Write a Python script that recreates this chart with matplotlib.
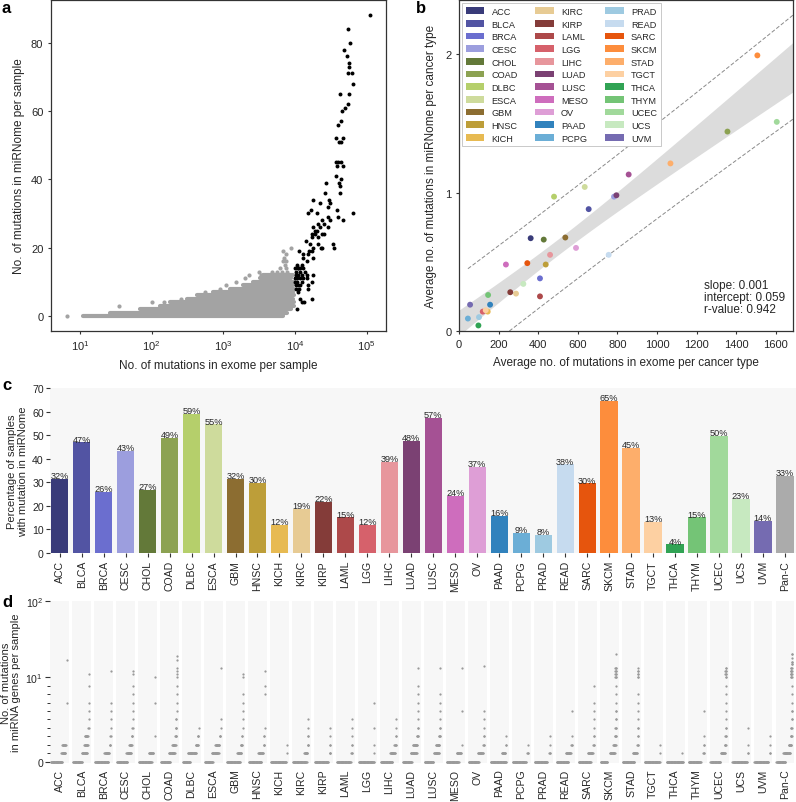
import numpy as np
import matplotlib
matplotlib.use("Agg")
import matplotlib.pyplot as plt
from matplotlib.patches import Patch
from matplotlib.ticker import NullLocator

plt.rcParams['font.family'] = ['Liberation Sans', 'DejaVu Sans']
plt.rcParams['mathtext.fontset'] = 'custom'
plt.rcParams['mathtext.rm'] = 'Liberation Sans'
plt.rcParams['mathtext.it'] = 'Liberation Sans:italic'
plt.rcParams['mathtext.bf'] = 'Liberation Sans:bold'
TXT = '#262626'
for k in ['text.color', 'axes.labelcolor', 'xtick.color', 'ytick.color']:
    plt.rcParams[k] = TXT

# ---------------- data ----------------
cancer_types = ['ACC', 'BLCA', 'BRCA', 'CESC', 'CHOL', 'COAD', 'DLBC', 'ESCA', 'GBM', 'HNSC',
                'KICH', 'KIRC', 'KIRP', 'LAML', 'LGG', 'LIHC', 'LUAD', 'LUSC', 'MESO', 'OV',
                'PAAD', 'PCPG', 'PRAD', 'READ', 'SARC', 'SKCM', 'STAD', 'TGCT', 'THCA', 'THYM',
                'UCEC', 'UCS', 'UVM']
type_colors = ['#393b79', '#5254a3', '#6b6ecf', '#9c9ede', '#637939', '#8ca252', '#b5cf6b', '#cedb9c',
               '#8c6d31', '#bd9e39', '#e7ba52', '#e7cb94', '#843c39', '#ad494a', '#d6616b', '#e7969c',
               '#7b4173', '#a55194', '#ce6dbd', '#de9ed6', '#3182bd', '#6baed6', '#9ecae1', '#c6dbef',
               '#e6550d', '#fd8d3c', '#fdae6b', '#fdd0a2', '#31a354', '#74c476', '#a1d99b', '#c7e9c0',
               '#756bb1']
pan_label = 'Pan-C'
pan_color = '#ababab'

# panel a: gray cloud (samples < 1e4 exome mutations), rows per integer miRNome count
gray_row_y = [0, 1, 2, 3, 4, 5, 6, 7, 8, 9, 10, 11, 12]
gray_row_lo = [11, 26, 69, 130, 181, 309, 427, 724, 1230, 1900, 2600, 3240, 3620]
gray_row_hi = [6900, 7800, 8900, 9600, 9600, 9300, 9600, 9300, 9600, 9300, 9600, 8900, 9300]
gray_pt_x = [6.5, 35, 100, 150, 260, 3100, 4700, 5600, 6500, 7800, 6150, 7600, 7200, 6900, 7600,
             7100, 7400, 6900, 8900, 3300, 3500, 480, 560, 900, 1100, 1500, 2000, 2300]
gray_pt_y = [0, 3, 4, 4, 5, 13, 13, 13, 13, 13, 14, 14, 15, 16, 16, 17, 18, 19, 20, 12, 11,
             6, 7, 8, 9, 10, 11, 12]
# panel a: black points (samples >= 1e4 exome mutations)
black_x = [111400, 55500, 58500, 48300, 52600, 57300, 57300, 54300, 63100, 63800, 42500, 57300, 55500,
           49900, 45700, 43350, 39400, 37300, 46200, 41100, 43350, 37300, 40250, 43350, 39000, 46200,
           36900, 43350, 41600, 42500, 42500, 63800, 39000, 40250, 46200, 27100, 26250, 30150, 30800,
           29200, 18050, 22350, 16550, 15350, 20050, 29200, 30800, 23550, 25650, 21200, 18050, 22350,
           19000, 20500, 17300, 19000, 23550, 25400, 29200, 17100, 21200, 14200, 16200, 21200, 22800,
           18050, 23550, 33550, 35400, 15850, 17100, 15350, 13100, 11500, 17650, 12800, 14850, 12400,
           10550, 10000, 11100, 11750, 10300, 11100, 10000, 11750, 10550, 12400, 10300, 11750, 13800,
           14550, 14850, 15350, 15350, 17100, 17650, 10900, 11750, 12400, 13350, 17100, 10550, 10300,
           10550, 10000, 10900, 11100, 12400, 11500, 10300, 13100, 11750, 12800]
black_y = [88, 84, 80, 78, 76, 74, 73, 71, 71, 68, 65, 65, 62,
           61, 60, 57, 56, 52, 52, 51, 51, 45, 45, 45, 44, 44,
           41, 40, 39, 38, 36, 30, 31, 29, 28, 39, 36, 34, 33,
           32, 34, 33, 31, 30, 30, 29, 28, 28, 27, 27, 26, 26,
           25, 25, 24, 24, 24, 24, 26, 23, 23, 22, 21, 21, 20,
           20, 20, 21, 20, 19, 19, 18, 18, 19, 17, 17, 16, 15,
           15, 14, 14, 13, 12, 12, 11, 11, 10, 10, 9, 9, 13,
           12, 11, 9, 8, 10, 12, 7, 5, 4, 4, 5, 2, 13,
           11, 10, 14, 9, 12, 8, 8, 14, 14, 11]

# panel b: average exome / miRNome mutations per cancer type (same order as cancer_types)
b_exome = [362, 655, 409, 783, 428, 1356, 480, 635, 537, 438, 145, 288, 259, 409, 120, 460, 795, 857,
           237, 591, 157, 45, 101, 756, 345, 1507, 1068, 135, 98, 147, 1605, 325, 56]
b_mirnome = [0.67, 0.88, 0.38, 0.97, 0.66, 1.44, 0.97, 1.04, 0.675, 0.48, 0.14, 0.27, 0.28, 0.25, 0.14,
             0.55, 0.98, 1.13, 0.48, 0.60, 0.19, 0.09, 0.10, 0.55, 0.49, 1.99, 1.21, 0.15, 0.04, 0.26,
             1.51, 0.34, 0.19]
b_stats_text = "slope: 0.001\nintercept: 0.059\nr-value: 0.942"

# panel c: percentage of samples with a miRNome mutation (cancer types + Pan-C)
c_percent = [31.6, 47.0, 26.0, 43.2, 26.8, 48.8, 59.1, 54.6, 31.6, 29.8, 11.9, 18.8, 21.6, 15.1, 11.9,
             38.6, 47.6, 57.2, 24.3, 36.6, 15.7, 8.6, 7.6, 37.6, 29.6, 64.6, 44.6, 13.1, 3.7, 15.1,
             49.8, 23.0, 13.6, 32.7]

# panel d: distinct mutation counts per sample and number of drawn points at each count
d_values = [
    [0, 1, 2, 7, 17],
    [0, 1, 2, 3, 4, 5, 6, 7, 9, 11],
    [0, 1, 2, 3, 4, 5, 6, 7, 12],
    [0, 1, 2, 3, 4, 5, 6, 7, 8, 9, 11, 12],
    [0, 1, 3, 7, 10],
    [0, 1, 2, 3, 4, 5, 6, 7, 8, 9, 10, 11, 12, 13, 17, 19],
    [0, 1, 2, 3, 4],
    [0, 1, 2, 3, 4, 5, 13],
    [0, 1, 2, 3, 4, 5, 6, 7, 8, 10, 11],
    [0, 1, 2, 3, 4, 8, 9, 12],
    [0, 1, 2],
    [0, 1, 2, 3, 4, 5],
    [0, 1, 2, 3, 4],
    [0, 1, 2, 3, 4, 5],
    [0, 1, 2, 4, 7],
    [0, 1, 2, 3, 4, 5],
    [0, 1, 2, 3, 4, 5, 6, 7, 8, 9, 13],
    [0, 1, 2, 3, 4, 5, 6, 7, 8, 13],
    [0, 1, 2, 6, 13],
    [0, 1, 2, 3, 4, 5, 6, 14],
    [0, 1, 2, 3],
    [0, 1, 2],
    [0, 1, 2, 3],
    [0, 1, 2, 3, 6],
    [0, 1, 2, 3, 4, 5, 6, 7, 9],
    [0, 1, 2, 3, 4, 5, 6, 7, 8, 9, 10, 11, 12, 13, 20],
    [0, 1, 2, 3, 4, 5, 6, 7, 8, 10, 11, 12, 13],
    [0, 1, 2],
    [0, 1],
    [0, 1, 2, 3, 6],
    [0, 1, 2, 3, 4, 5, 6, 7, 8, 9, 10, 11, 12, 13],
    [0, 1, 2, 4],
    [0, 1, 2, 3],
    [0, 1, 2, 3, 4, 5, 6, 7, 8, 9, 10, 11, 12, 13, 15, 16, 18, 20],
]
d_counts = [
    [31, 12, 10, 1, 1],
    [25, 15, 10, 9, 2, 1, 1, 1, 1, 1],
    [37, 14, 3, 2, 1, 1, 1, 1, 1],
    [29, 14, 8, 3, 2, 1, 1, 1, 1, 1, 1, 1],
    [35, 13, 1, 1, 1],
    [26, 17, 10, 4, 3, 2, 1, 1, 1, 1, 1, 1, 1, 1, 1, 1],
    [20, 23, 7, 3, 1],
    [22, 19, 12, 3, 1, 1, 1],
    [37, 12, 5, 2, 1, 1, 1, 1, 1, 1, 1],
    [35, 14, 3, 2, 1, 1, 1, 1],
    [42, 1, 1],
    [38, 10, 3, 2, 1, 1],
    [37, 3, 2, 1, 1],
    [38, 3, 2, 1, 1, 1],
    [42, 1, 1, 1, 1],
    [32, 14, 5, 2, 1, 1],
    [25, 17, 12, 4, 2, 1, 1, 1, 1, 1, 1],
    [24, 14, 10, 4, 2, 1, 1, 1, 1, 1],
    [33, 13, 1, 1, 1],
    [28, 14, 3, 2, 1, 1, 1, 1],
    [43, 10, 2, 1],
    [37, 3, 1],
    [35, 3, 1, 1],
    [33, 14, 3, 1, 1],
    [34, 14, 3, 2, 1, 1, 1, 1, 1],
    [19, 14, 7, 4, 3, 2, 2, 1, 1, 1, 3, 3, 3, 3, 1],
    [33, 12, 3, 2, 2, 1, 1, 1, 1, 2, 2, 2, 1],
    [42, 1, 1],
    [46, 1],
    [34, 3, 2, 1, 1],
    [28, 12, 4, 3, 2, 1, 1, 1, 1, 1, 2, 3, 3, 2],
    [40, 2, 1, 1],
    [39, 2, 1, 1],
    [25, 19, 8, 4, 3, 2, 2, 1, 1, 1, 3, 4, 4, 3, 2, 2, 1, 2],
]

# ---------------- figure ----------------
W, H = 796, 803
fig = plt.figure(figsize=(W / 100, H / 100), dpi=100)


def ax_px(l, t, r, b):
    return fig.add_axes([l / W, 1 - b / H, (r - l) / W, (b - t) / H])


SPINE = '#333333'
GRAY = '#a3a3a3'

# ---- panel a ----
axa = ax_px(51, 1, 386, 332)
axa.set_xscale('log')
axa.hlines(gray_row_y, gray_row_lo, gray_row_hi, colors=GRAY, linewidth=3.0,
           capstyle='round', zorder=1)
axa.scatter(gray_pt_x, gray_pt_y, s=9, c=GRAY, linewidths=0, zorder=1)
axa.scatter(black_x, black_y, s=8, c='black', linewidths=0, zorder=3)
axa.set_xlim(3.94, 186000)
axa.set_ylim(-4.4, 92.5)
axa.set_xticks([1e1, 1e2, 1e3, 1e4, 1e5])
axa.xaxis.set_minor_locator(NullLocator())
axa.set_yticks([0, 20, 40, 60, 80])
axa.tick_params(labelsize=8, length=2, width=0.8, color=SPINE)
for sp in axa.spines.values():
    sp.set_color(SPINE)
    sp.set_linewidth(0.9)
axa.set_xlabel('No. of mutations in exome per sample', fontsize=8.5, labelpad=5)
axa.set_ylabel('No. of mutations in miRNome per sample', fontsize=8.5, labelpad=4)

# ---- panel b ----
axb = ax_px(459, 1, 793, 332)
xs = np.array(b_exome, float)
ys = np.array(b_mirnome, float)
slope, intercept = np.polyfit(xs, ys, 1)
n = len(xs)
resid = ys - (slope * xs + intercept)
s_err = np.sqrt(np.sum(resid ** 2) / (n - 2))
xm = xs.mean()
sxx = np.sum((xs - xm) ** 2)
tval = 2.04
XMAX = 1687
xx = np.linspace(0, XMAX, 300)
yy = slope * xx + intercept
ci = tval * s_err * np.sqrt(1 / n + (xx - xm) ** 2 / sxx)
axb.fill_between(xx, yy - ci, yy + ci, color='#dcdcdc', lw=0, zorder=1)
xp = np.linspace(xs.min(), XMAX, 300)
yp = slope * xp + intercept
pi = tval * s_err * np.sqrt(1 + 1 / n + (xp - xm) ** 2 / sxx)
axb.plot(xp, yp + pi, ls=(0, (4, 2)), color='#8a8a8a', lw=0.7, zorder=2)
axb.plot(xp, yp - pi, ls=(0, (4, 2)), color='#8a8a8a', lw=0.7, zorder=2)
axb.scatter(xs, ys, s=18, c=type_colors, linewidths=0, zorder=3)
axb.set_xlim(0, XMAX)
axb.set_ylim(0, 2.39)
axb.set_xticks(np.arange(0, 1601, 200))
axb.set_yticks([0, 1, 2])
axb.tick_params(labelsize=8, length=2, width=0.8, color=SPINE)
for sp in axb.spines.values():
    sp.set_color(SPINE)
    sp.set_linewidth(0.9)
axb.set_xlabel('Average no. of mutations in exome per cancer type', fontsize=8.5, labelpad=5)
axb.set_ylabel('Average no. of mutations in miRNome per cancer type', fontsize=8.5, labelpad=6)
handles = [Patch(facecolor=c, edgecolor='none', label=t) for t, c in zip(cancer_types, type_colors)]
leg = axb.legend(handles=handles, ncol=3, loc='upper left', fontsize=6.6, handlelength=2.0,
                 handleheight=0.7, labelspacing=0.4, handletextpad=0.8, columnspacing=1.9,
                 borderaxespad=0.35, borderpad=0.4, fancybox=False, framealpha=1, edgecolor='#c0c0c0')
leg.get_frame().set_linewidth(0.6)
axb.text(0.733, 0.158, b_stats_text, transform=axb.transAxes, fontsize=8.5, va='top', ha='left',
         linespacing=1.0)

# ---- panel c ----
BG = '#f7f7f7'
axc = ax_px(50, 389, 796, 554)
labels_all = cancer_types + [pan_label]
colors_all = type_colors + [pan_color]
xpos = np.arange(len(labels_all))
axc.set_facecolor(BG)
axc.bar(xpos, c_percent, width=0.79, color=colors_all, zorder=2)
for xi, v in zip(xpos, c_percent):
    axc.text(xi, v + 0.3, f"{v:.0f}%", ha='center', va='baseline', fontsize=6.6, zorder=3)
axc.set_xlim(-0.44, 33.5)
axc.set_ylim(0, 70)
axc.set_yticks(np.arange(0, 71, 10))
axc.set_xticks(xpos)
axc.set_xticklabels(labels_all, rotation=90, fontsize=7.6)
axc.tick_params(axis='y', labelsize=7.6, length=3, width=0.8, color=SPINE, pad=1.5)
axc.tick_params(axis='x', length=3, width=0.8, color=SPINE, pad=2)
for sp in axc.spines.values():
    sp.set_visible(False)
axc.set_ylabel('Percentage of samples\nwith mutation in miRNome', fontsize=8, labelpad=3,
               linespacing=1.1)

# ---- panel d ----
axd = ax_px(50, 602, 796, 764)
axd.set_yscale('symlog', linthresh=10, linscale=1)
step = 0.0168
for i, (vals, cnts) in enumerate(zip(d_values, d_counts)):
    axd.axvspan(i - 0.43, i + 0.43, color=BG, lw=0, zorder=0)
    px, py = [], []
    for v, c in zip(vals, cnts):
        k = np.arange(c)
        if v == 0:
            xr = i - 0.39 + k * step
        else:
            w = (c - 1) * step
            center = i + 0.32 - 0.8 * w
            xr = center + (k - (c - 1) / 2) * step
        px.extend(xr)
        py.extend([v] * c)
    axd.scatter(px, py, s=2.6, c='#9a9a9a', linewidths=0, zorder=2)
axd.set_xlim(-0.44, 33.5)
axd.set_ylim(-0.15, 100)
axd.set_yticks([0, 10, 100])
axd.set_yticklabels(['0', r'$10^1$', r'$10^2$'])
axd.set_yticks(list(range(1, 10)), minor=True)
axd.tick_params(axis='y', which='major', labelsize=7.6, length=3.5, width=0.8, color=SPINE, pad=1.5)
axd.tick_params(axis='y', which='minor', length=2, width=0.7, color=SPINE)
axd.set_xticks(xpos)
axd.set_xticklabels(labels_all, rotation=90, fontsize=7.6)
axd.tick_params(axis='x', length=0, pad=4)
for sp in axd.spines.values():
    sp.set_visible(False)
axd.set_ylabel('No. of mutations\nin miRNA genes per sample', fontsize=8, labelpad=3, linespacing=1.1)

# ---- panel letters ----
for lab, xpx, ypx in [('a', 2, 13), ('b', 416, 13), ('c', 2, 390), ('d', 2, 607)]:
    fig.text(xpx / W, 1 - ypx / H, lab, fontsize=12, fontweight='bold', va='baseline', ha='left',
             color='black')

fig.savefig('out.png', dpi=100)
